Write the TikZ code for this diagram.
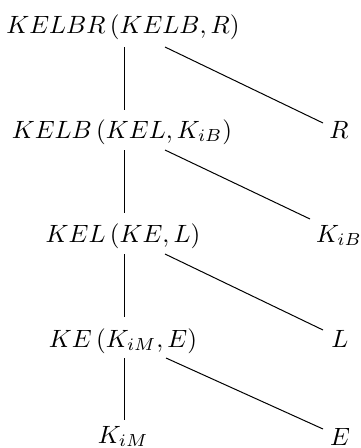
\documentclass[tikz,border=0pt]{standalone}
\usetikzlibrary{calc}
\begin{document}
\begin{tikzpicture}[x=0.4pt,y=-0.4pt,
  lbl/.style={anchor=base,inner sep=0pt},
  branch/.style={line width=0.4pt}]
\useasboundingbox (0,0) rectangle (361,448);
% left column: composite terms
\node[lbl] (t1) at (123,33)  {$KELBR\,(KELB, R)$};
\node[lbl] (t2) at (122,138) {$KELB\,(KEL, K_{iB})$};
\node[lbl] (t3) at (123,242) {$KEL\,(KE, L)$};
\node[lbl] (t4) at (123,347) {$KE\,(K_{iM}, E)$};
\node[lbl] (t5) at (123,443) {$K_{iM}$};
% right column: added components
\node[lbl] (r1) at (339,138) {$R$};
\node[lbl] (r2) at (339,242) {$K_{iB}$};
\node[lbl] (r3) at (340,347) {$L$};
\node[lbl] (r4) at (340,445) {$E$};
% vertical branches
\draw[branch] ($(t1.base)+(1,14)$) -- ($(t2.base)+(2,-28)$);
\draw[branch] ($(t2.base)+(2,12)$) -- ($(t3.base)+(1,-29)$);
\draw[branch] ($(t3.base)+(1,12)$) -- ($(t4.base)+(1,-30)$);
\draw[branch] ($(t4.base)+(1,11)$) -- ($(t5.base)+(1,-23)$);
% diagonal branches
\draw[branch] ($(t1.base)+(42,14)$) -- ($(r1.base)+(-16,-15)$);
\draw[branch] ($(t2.base)+(43,12)$) -- ($(r2.base)+(-29,-23)$);
\draw[branch] ($(t3.base)+(42,12)$) -- ($(r3.base)+(-17,-17)$);
\draw[branch] ($(t4.base)+(43,11)$) -- ($(r4.base)+(-17,-16)$);
\end{tikzpicture}
\end{document}
